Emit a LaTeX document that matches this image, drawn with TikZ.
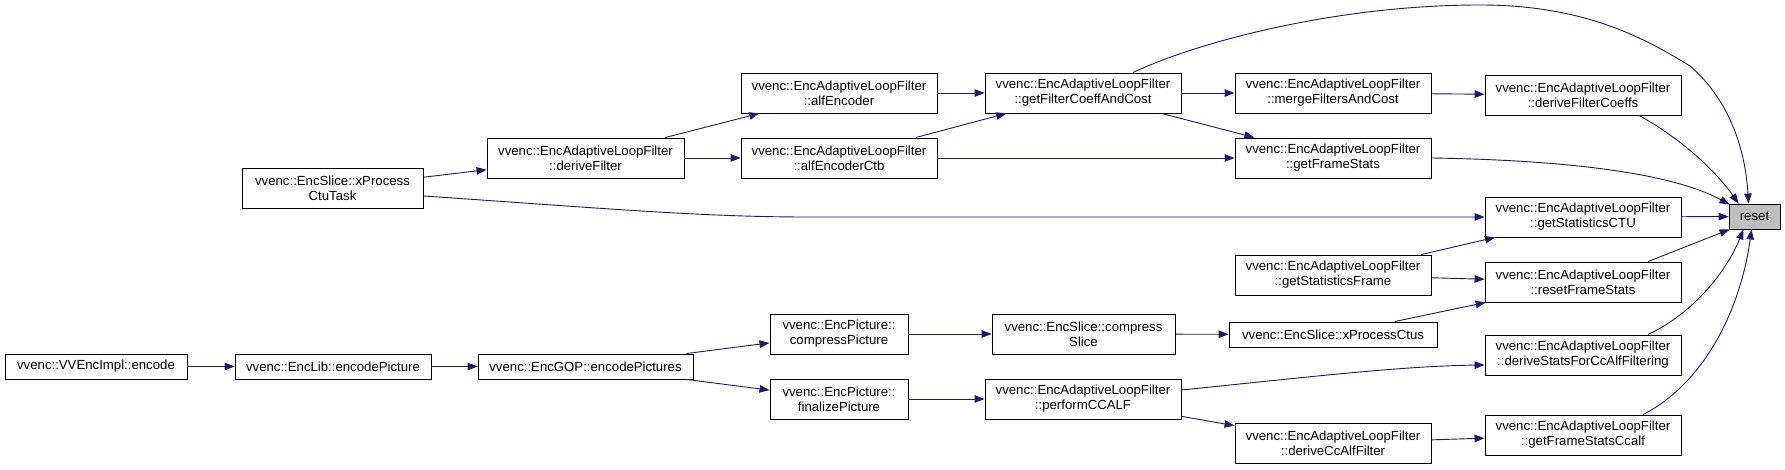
\documentclass[tikz,border=0pt]{standalone}
\usepackage{fontspec}
\setmainfont{Liberation Sans}
\usetikzlibrary{arrows.meta,calc}
\definecolor{edgec}{HTML}{191970}
\definecolor{resetfill}{HTML}{BFBFBF}
\begin{document}
\begin{tikzpicture}[x=1pt,y=-1pt,
  box/.style={draw=black,fill=white,line width=0.9pt,inner sep=0pt,align=center,
    font=\fontsize{13.2}{15}\selectfont,text=black,minimum width=196pt},
  boxone/.style={box,minimum height=25pt},
  boxtwo/.style={box,minimum height=40pt},
  e/.style={draw=edgec,line width=0.9pt,-{Triangle[length=10pt,width=7.5pt]}}]
\path[fill=white,use as bounding box] (0,0) rectangle (1785,470);

% nodes
\node[boxone,minimum width=182pt] (enc) at (96,366.5) {vvenc::VVEncImpl::encode};
\node[boxone] (encpic) at (333,366.5) {vvenc::EncLib::encodePicture};
\node[boxone,minimum width=215pt] (encpics) at (585.5,366.5) {vvenc::EncGOP::encodePictures};
\node[boxtwo,minimum width=138pt] (cpic) at (839,334) {vvenc::EncPicture::\\compressPicture};
\node[boxtwo,minimum width=138pt] (fpic) at (839,399) {vvenc::EncPicture::\\finalizePicture};
\node[boxtwo,minimum width=183pt] (cslice) at (1083.5,334) {vvenc::EncSlice::compress\\Slice};
\node[boxtwo] (pccalf) at (1083,399) {vvenc::EncAdaptiveLoopFilter\\::performCCALF};
\node[boxone,minimum width=208pt] (xpc) at (1333,334.5) {vvenc::EncSlice::xProcessCtus};
\node[boxtwo] (dcaf) at (1333,443) {vvenc::EncAdaptiveLoopFilter\\::deriveCcAlfFilter};
\node[boxtwo] (gsf) at (1333,275) {vvenc::EncAdaptiveLoopFilter\\::getStatisticsFrame};
\node[boxtwo,minimum width=181pt] (xpct) at (332.5,188) {vvenc::EncSlice::xProcess\\CtuTask};
\node[boxtwo,minimum width=197pt] (dfilt) at (585.5,158) {vvenc::EncAdaptiveLoopFilter\\::deriveFilter};
\node[boxtwo] (alfe) at (839,93) {vvenc::EncAdaptiveLoopFilter\\::alfEncoder};
\node[boxtwo] (alfc) at (839,158) {vvenc::EncAdaptiveLoopFilter\\::alfEncoderCtb};
\node[boxtwo] (gfcc) at (1083,93) {vvenc::EncAdaptiveLoopFilter\\::getFilterCoeffAndCost};
\node[boxtwo] (mfc) at (1333,93) {vvenc::EncAdaptiveLoopFilter\\::mergeFiltersAndCost};
\node[boxtwo] (gfs) at (1333,158) {vvenc::EncAdaptiveLoopFilter\\::getFrameStats};
\node[boxtwo] (dfc) at (1583,95) {vvenc::EncAdaptiveLoopFilter\\::deriveFilterCoeffs};
\node[boxtwo] (gsctu) at (1583,217) {vvenc::EncAdaptiveLoopFilter\\::getStatisticsCTU};
\node[boxtwo] (rfs) at (1583,282) {vvenc::EncAdaptiveLoopFilter\\::resetFrameStats};
\node[boxtwo] (dsf) at (1583,355) {vvenc::EncAdaptiveLoopFilter\\::deriveStatsForCcAlfFiltering};
\node[boxtwo] (gfsc) at (1583,435) {vvenc::EncAdaptiveLoopFilter\\::getFrameStatsCcalf};
\node[boxone,minimum width=51pt,fill=resetfill] (reset) at (1754.5,216.5) {reset};

% edges
\draw[e] (enc) -- (encpic);
\draw[e] (encpic) -- (encpics);
\draw[e] (encpics) -- (cpic);
\draw[e] (encpics) -- (fpic);
\draw[e] (cpic) -- (cslice);
\draw[e] (fpic) -- (pccalf);
\draw[e] (cslice) -- (xpc);
\draw[e] (pccalf) -- (dcaf);
\draw[e] (dcaf) -- (gfsc);
\draw[e] ($(pccalf.east)+(0,-9)$) .. controls (1300,378) and (1400,366) .. ($(dsf.west)+(0,10)$);
\draw[e] (xpc) -- (rfs);
\draw[e] (gsf) -- (gsctu);
\draw[e] (gsf) -- (rfs);
\draw[e] (xpct) -- (dfilt);
\draw[e] ($(xpct.east)+(0,8)$) .. controls (600,208) and (700,217) .. (807,217) -- (gsctu.west);
\draw[e] (dfilt) -- (alfe);
\draw[e] (dfilt) -- (alfc);
\draw[e] (alfe) -- (gfcc);
\draw[e] (alfc) -- (gfcc);
\draw[e] (alfc) -- (gfs);
\draw[e] (gfcc) -- (mfc);
\draw[e] (gfcc) -- (gfs);
\draw[e] (mfc) -- (dfc);
\draw[e] ($(gfcc.north)+(50,0)$) .. controls (1190,45) and (1330,5) .. (1480,5)
   .. controls (1580,5) and (1640,35) .. (1690,66)
   .. controls (1735,105) and (1746,160) .. ($(reset.north)+(-6,0)$);
\draw[e] ($(dfc.south)+(56,0)$) .. controls (1680,138) and (1715,170) .. ($(reset.north)+(-16,0)$);
\draw[e] (gfs.east) .. controls (1560,160) and (1670,172) .. ($(reset.north west)+(1,1)$);
\draw[e] (gsctu) -- (reset);
\draw[e] ($(rfs.north)+(65,0)$) -- ($(reset.south west)+(1,0)$);
\draw[e] ($(dsf.north)+(65,0)$) .. controls (1690,315) and (1725,275) .. ($(reset.south)+(-11,0)$);
\draw[e] ($(gfsc.north)+(60,0)$) .. controls (1710,380) and (1742,300) .. ($(reset.south)+(-3,0)$);
\end{tikzpicture}
\end{document}
